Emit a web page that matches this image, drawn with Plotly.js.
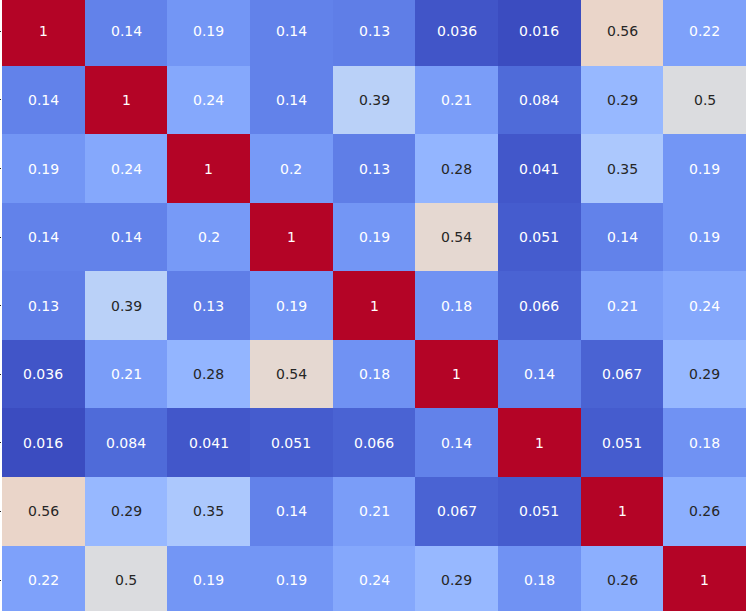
<!DOCTYPE html>
<html>
<head>
<meta charset="utf-8">
<script src="https://cdn.plot.ly/plotly-3.0.1.min.js"></script>
<style>html,body{margin:0;padding:0;background:#fff;}#chart{width:748px;height:611px;}</style>
</head>
<body>
<div id="chart"></div>
<script>
// Category indices (labels are outside the visible crop)
const categories = [0, 1, 2, 3, 4, 5, 6, 7, 8];

// Correlation values, one array per row
const row0 = [1, 0.14, 0.19, 0.14, 0.13, 0.036, 0.016, 0.56, 0.22];
const row1 = [0.14, 1, 0.24, 0.14, 0.39, 0.21, 0.084, 0.29, 0.5];
const row2 = [0.19, 0.24, 1, 0.2, 0.13, 0.28, 0.041, 0.35, 0.19];
const row3 = [0.14, 0.14, 0.2, 1, 0.19, 0.54, 0.051, 0.14, 0.19];
const row4 = [0.13, 0.39, 0.13, 0.19, 1, 0.18, 0.066, 0.21, 0.24];
const row5 = [0.036, 0.21, 0.28, 0.54, 0.18, 1, 0.14, 0.067, 0.29];
const row6 = [0.016, 0.084, 0.041, 0.051, 0.066, 0.14, 1, 0.051, 0.18];
const row7 = [0.56, 0.29, 0.35, 0.14, 0.21, 0.067, 0.051, 1, 0.26];
const row8 = [0.22, 0.5, 0.19, 0.19, 0.24, 0.29, 0.18, 0.26, 1];
const z = [row0, row1, row2, row3, row4, row5, row6, row7, row8];

// matplotlib "coolwarm" colormap stops
const coolwarm = [
 [59,76,192],[68,90,204],[77,104,215],[87,117,225],[98,130,234],[108,142,241],
 [119,154,247],[130,165,251],[141,176,254],[152,185,255],[163,194,255],[174,201,253],
 [184,208,249],[194,213,244],[204,217,238],[213,219,230],[221,221,221],[229,216,209],
 [236,211,197],[241,204,185],[245,196,173],[247,187,160],[247,177,148],[247,166,135],
 [244,154,123],[241,141,111],[236,127,99],[229,112,88],[222,96,77],[213,80,66],
 [203,62,56],[192,40,47],[180,4,38]
];
const n = coolwarm.length - 1;
const colorscale = coolwarm.map((c, i) => [i / n, `rgb(${c[0]},${c[1]},${c[2]})`]);

let zmin = Infinity, zmax = -Infinity;
z.forEach(r => r.forEach(v => { zmin = Math.min(zmin, v); zmax = Math.max(zmax, v); }));

function colorAt(v) {
  let t = (v - zmin) / (zmax - zmin);
  t = Math.max(0, Math.min(1, t));
  const p = t * n, i = Math.min(Math.floor(p), n - 1), f = p - i;
  return coolwarm[i].map((c, k) => c + (coolwarm[i + 1][k] - c) * f);
}
function lum(rgb) {
  const l = rgb.map(c => { c = c / 255; return c <= 0.03928 ? c / 12.92 : Math.pow((c + 0.055) / 1.055, 2.4); });
  return 0.2126 * l[0] + 0.7152 * l[1] + 0.0722 * l[2];
}
function fmt(v) { return String(Number(v.toPrecision(2))); }

const annotations = [];
z.forEach((r, i) => r.forEach((v, j) => {
  annotations.push({
    x: categories[j], y: categories[i], xref: 'x', yref: 'y',
    text: fmt(v), showarrow: false, xanchor: 'center', yanchor: 'middle',
    font: {family: 'DejaVu Sans', size: 14, color: lum(colorAt(v)) > 0.408 ? '#262626' : '#ffffff'}
  });
}));

const heat = {
  type: 'heatmap', z: z, x: categories, y: categories,
  colorscale: colorscale, zmin: zmin, zmax: zmax, showscale: false,
  hoverinfo: 'z'
};

const layout = {
  width: 748, height: 611,
  margin: {l: 2, r: 2, t: 0, b: 0, pad: 0},
  paper_bgcolor: '#fff', plot_bgcolor: '#fff',
  showlegend: false,
  annotations: annotations,
  xaxis: {range: [-0.5, 8.5], showticklabels: false, ticks: '', showgrid: false, zeroline: false, showline: false},
  yaxis: {range: [8.452, -0.458], tickvals: categories, showticklabels: false, ticks: 'outside', ticklen: 4, tickwidth: 1, tickcolor: '#262626', showgrid: false, zeroline: false, showline: false}
};

Plotly.newPlot('chart', [heat], layout, {displayModeBar: false, staticPlot: true});
</script>
</body>
</html>
